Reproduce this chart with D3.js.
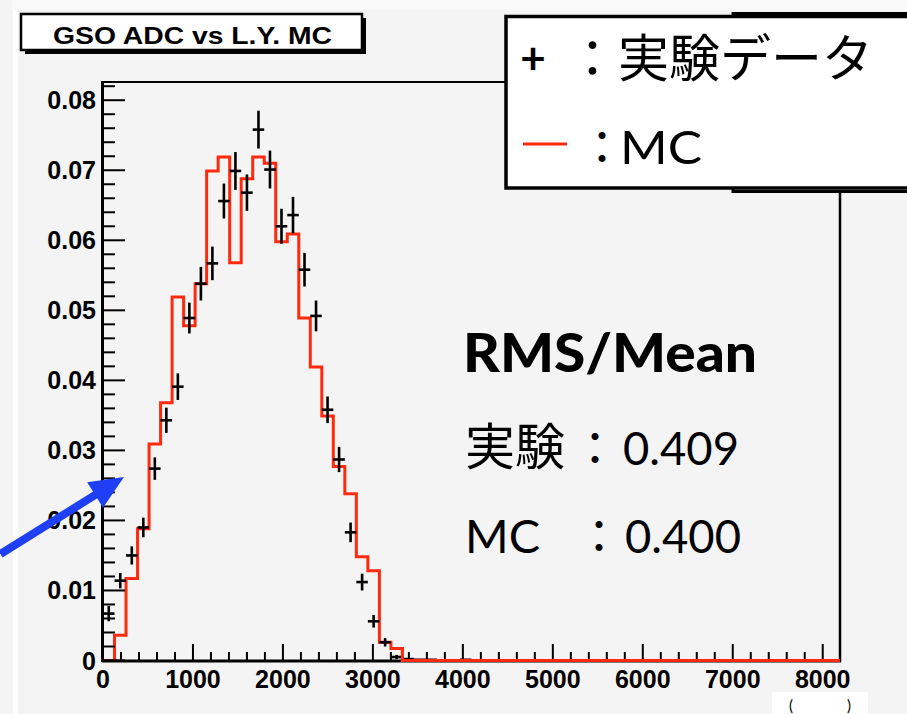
<!DOCTYPE html>
<html><head><meta charset="utf-8">
<script src="https://cdn.jsdelivr.net/npm/d3@7"></script>
<style>html,body{margin:0;padding:0;background:#f4f4f4;}svg{display:block;}</style>
</head><body>
<script>
// ---- data ----
const binWidth = 128;           // ADC channels per bin
const xMax = 8192;
const mcValues = [0, 0.0036, 0.0117, 0.0188, 0.0309, 0.0368, 0.0519, 0.0478, 0.0538, 0.0699,
  0.0719, 0.0568, 0.0688, 0.0719, 0.0710, 0.0598, 0.0609, 0.0489, 0.0419, 0.0349,
  0.0277, 0.0238, 0.0148, 0.0128, 0.0026, 0.0017, 0, 0, 0, 0,
  0, 0, 0, 0, 0, 0, 0, 0, 0, 0, 0, 0, 0, 0, 0, 0, 0, 0, 0, 0,
  0, 0, 0, 0, 0, 0, 0, 0, 0, 0, 0, 0, 0, 0];
const dataValues = [0.0067, 0.0114, 0.0150, 0.0190, 0.0274, 0.0343, 0.0391, 0.0489, 0.0538, 0.0567,
  0.0656, 0.0699, 0.0668, 0.0758, 0.0701, 0.0620, 0.0636, 0.0558, 0.0492, 0.0358,
  0.0287, 0.0183, 0.0112, 0.0056, 0.0026, 0.0005, 0.0002, 0.0001, 0.0001, 0, 0, 0.0001];
const dataErrors = [0.0011, 0.0011, 0.0013, 0.0014, 0.0016, 0.0018, 0.0019, 0.0022, 0.0024, 0.0024,
  0.0025, 0.0027, 0.0026, 0.0027, 0.0027, 0.0025, 0.0026, 0.0024, 0.0022, 0.0019,
  0.0018, 0.0014, 0.0012, 0.0009, 0.0006, 0.0003, 0.0001, 0.0001, 0.0001, 0, 0, 0.0001];
const xTicks = [0, 1000, 2000, 3000, 4000, 5000, 6000, 7000, 8000];
const yTicks = [0, 0.01, 0.02, 0.03, 0.04, 0.05, 0.06, 0.07, 0.08];
const yTickLabels = ["0", "0.01", "0.02", "0.03", "0.04", "0.05", "0.06", "0.07", "0.08"];
const titleText = "GSO ADC vs L.Y. MC";
const legendData = "：実験データ";
const legendMC = "MC";
const rmsTitle = "RMS/Mean";
const rmsRows = [["実験", "0.409"], ["MC", "0.400"]];
// arrow annotation in data coordinates [x, y]
const arrowFrom = [-1140, 0.0152];
const arrowTo = [233, 0.0262];

// ---- layout ----
const W = 907, H = 714;
const svg = d3.select("body").append("svg").attr("width", W).attr("height", H);
const x = d3.scaleLinear().domain([0, xMax]).range([103, 840]);
const y = d3.scaleLinear().domain([0, 0.0826]).range([660.5, 82]);

svg.append("rect").attr("width", W).attr("height", H).attr("fill", "#f4f4f4");
svg.append("rect").attr("x", 12).attr("y", 0).attr("width", W - 12).attr("height", 10).attr("fill", "#fafafa");
svg.append("rect").attr("x", 13).attr("y", 10).attr("width", 5).attr("height", H).attr("fill", "#ffffff");

// MC histogram
const mcPts = [];
mcValues.forEach((v, i) => { mcPts.push([i * binWidth, v]); mcPts.push([(i + 1) * binWidth, v]); });
svg.append("path")
  .attr("d", d3.line().x(d => x(d[0])).y(d => y(d[1]))(mcPts))
  .attr("fill", "none").attr("stroke", "#ff2a0e").attr("stroke-width", 3)
  .attr("stroke-linejoin", "miter");

// data crosses
const gData = svg.append("g").attr("stroke", "#000").attr("stroke-width", 2.6);
dataValues.forEach((v, i) => {
  if (v <= 0) return;
  const e = dataErrors[i];
  gData.append("line").attr("x1", x(i * binWidth)).attr("x2", x((i + 1) * binWidth))
    .attr("y1", y(v)).attr("y2", y(v));
  if (e > 0) gData.append("line").attr("x1", x((i + 0.5) * binWidth)).attr("x2", x((i + 0.5) * binWidth))
    .attr("y1", y(v - e)).attr("y2", y(v + e));
});

// frame
svg.append("line").attr("x1", 102).attr("x2", 841).attr("y1", 82).attr("y2", 82).attr("stroke", "#000").attr("stroke-width", 2);
svg.append("line").attr("x1", 840).attr("x2", 840).attr("y1", 82).attr("y2", 662).attr("stroke", "#000").attr("stroke-width", 2.5);

// y axis
const yAxis = svg.append("g");
yAxis.append("line").attr("x1", 102.5).attr("x2", 102.5).attr("y1", 81).attr("y2", 662).attr("stroke", "#000").attr("stroke-width", 3);
d3.range(0, 0.0826, 0.002).forEach(t => {
  const major = Math.abs(t * 100 - Math.round(t * 100)) < 1e-6;
  yAxis.append("line").attr("x1", 103).attr("x2", major ? 125 : 115)
    .attr("y1", y(t)).attr("y2", y(t)).attr("stroke", "#000").attr("stroke-width", 2);
});
yAxis.selectAll("text.yl").data(yTicks).enter().append("text")
  .attr("x", 96).attr("y", d => y(d) + 9).attr("text-anchor", "end")
  .attr("font-family", "Liberation Sans").attr("font-weight", "bold").attr("font-size", 25)
  .attr("fill", "#000").text((d, i) => yTickLabels[i]);

// x axis
const xAxis = svg.append("g");
d3.range(0, xMax, 200).forEach(t => {
  const major = t % 1000 === 0;
  xAxis.append("line").attr("x1", x(t)).attr("x2", x(t))
    .attr("y1", 661).attr("y2", major ? 644 : 652).attr("stroke", "#000").attr("stroke-width", 2);
});
xAxis.append("line").attr("x1", 102).attr("x2", 841).attr("y1", 661).attr("y2", 661).attr("stroke", "#000").attr("stroke-width", 3);
xAxis.append("path")
  .attr("d", d3.line().x(d => x(d[0])).y(d => y(d[1]))(mcPts.slice(50)))
  .attr("fill", "none").attr("stroke", "#ff2a0e").attr("stroke-width", 3);
xAxis.selectAll("text.xl").data(xTicks).enter().append("text")
  .attr("x", d => x(d)).attr("y", 688).attr("text-anchor", "middle")
  .attr("font-family", "Liberation Sans").attr("font-weight", "bold").attr("font-size", 25)
  .attr("fill", "#000").text(d => d);

// title box
svg.append("rect").attr("x", 25).attr("y", 18).attr("width", 341).attr("height", 36).attr("fill", "#000");
svg.append("rect").attr("x", 21).attr("y", 14).attr("width", 341).attr("height", 36)
  .attr("fill", "#fff").attr("stroke", "#000").attr("stroke-width", 2.5);
svg.append("text").attr("x", 53).attr("y", 44)
  .attr("font-family", "Liberation Sans").attr("font-weight", "bold").attr("font-size", 24)
  .attr("textLength", 279).attr("lengthAdjust", "spacingAndGlyphs").text(titleText);

// stats box behind legend
svg.append("rect").attr("x", 733).attr("y", 13.5).attr("width", 200).attr("height", 178)
  .attr("fill", "#fff").attr("stroke", "#000").attr("stroke-width", 3);
// legend box
svg.append("rect").attr("x", 506).attr("y", 16.5).attr("width", 430).attr("height", 171.5)
  .attr("fill", "#fff").attr("stroke", "#000").attr("stroke-width", 3.5);
svg.append("text").attr("x", 533).attr("y", 74).attr("text-anchor", "middle")
  .attr("font-family", "Lato").attr("font-weight", "bold").attr("font-size", 44).text("+");
svg.append("text").attr("x", 567).attr("y", 77)
  .attr("font-family", "Noto Sans CJK JP").attr("font-size", 51).text(legendData);
svg.append("line").attr("x1", 523).attr("x2", 567).attr("y1", 144).attr("y2", 144)
  .attr("stroke", "#ff2a0e").attr("stroke-width", 3);
svg.append("text").attr("x", 602).attr("y", 164).attr("text-anchor", "middle")
  .attr("font-family", "Noto Sans CJK JP").attr("font-size", 46).text("：");
svg.append("text").attr("x", 620).attr("y", 164)
  .attr("font-family", "Lato").attr("font-size", 46).attr("textLength", 82).attr("lengthAdjust", "spacingAndGlyphs").text(legendMC);

// RMS/Mean annotation
svg.append("text").attr("x", 463).attr("y", 372)
  .attr("font-family", "Lato").attr("font-weight", 900).attr("font-size", 53)
  .attr("textLength", 294).attr("lengthAdjust", "spacingAndGlyphs").text(rmsTitle);
const rowY = [465, 553];
const colonX = [595, 599];
const numX = [623, 625];
rmsRows.forEach((r, i) => {
  svg.append("text").attr("x", 465).attr("y", rowY[i])
    .attr("font-family", "Lato, 'Noto Sans CJK JP'").attr("font-size", i === 0 ? 50 : 47).text(r[0]);
  svg.append("text").attr("x", colonX[i]).attr("y", rowY[i]).attr("text-anchor", "middle")
    .attr("font-family", "Noto Sans CJK JP").attr("font-size", 46).text("：");
  svg.append("text").attr("x", numX[i]).attr("y", rowY[i])
    .attr("font-family", "Lato").attr("font-size", 47).attr("textLength", 116).attr("lengthAdjust", "spacingAndGlyphs").text(r[1]);
});

// arrow
const ax0 = x(arrowFrom[0]), ay0 = y(arrowFrom[1]), ax1 = x(arrowTo[0]), ay1 = y(arrowTo[1]);
const ang = Math.atan2(ay1 - ay0, ax1 - ax0);
const headLen = 34, headW = 15;
const bx = ax1 - headLen * Math.cos(ang), by = ay1 - headLen * Math.sin(ang);
svg.append("line").attr("x1", ax0).attr("y1", ay0).attr("x2", bx + 4 * Math.cos(ang)).attr("y2", by + 4 * Math.sin(ang))
  .attr("stroke", "#1f3ff5").attr("stroke-width", 8);
svg.append("path").attr("d", `M${ax1},${ay1} L${bx - headW * Math.sin(ang)},${by + headW * Math.cos(ang)} L${bx + headW * Math.sin(ang)},${by - headW * Math.cos(ang)} Z`)
  .attr("fill", "#1f3ff5");

// cropped unit label box bottom right
svg.append("rect").attr("x", 772).attr("y", 692).attr("width", 96).attr("height", 30).attr("fill", "#fff");
svg.append("text").attr("x", 820).attr("y", 711).attr("text-anchor", "middle")
  .attr("font-family", "Lato").attr("font-size", 15).attr("xml:space", "preserve")
  .attr("textLength", 62).attr("lengthAdjust", "spacing").text("(      )");
</script>
</body></html>
